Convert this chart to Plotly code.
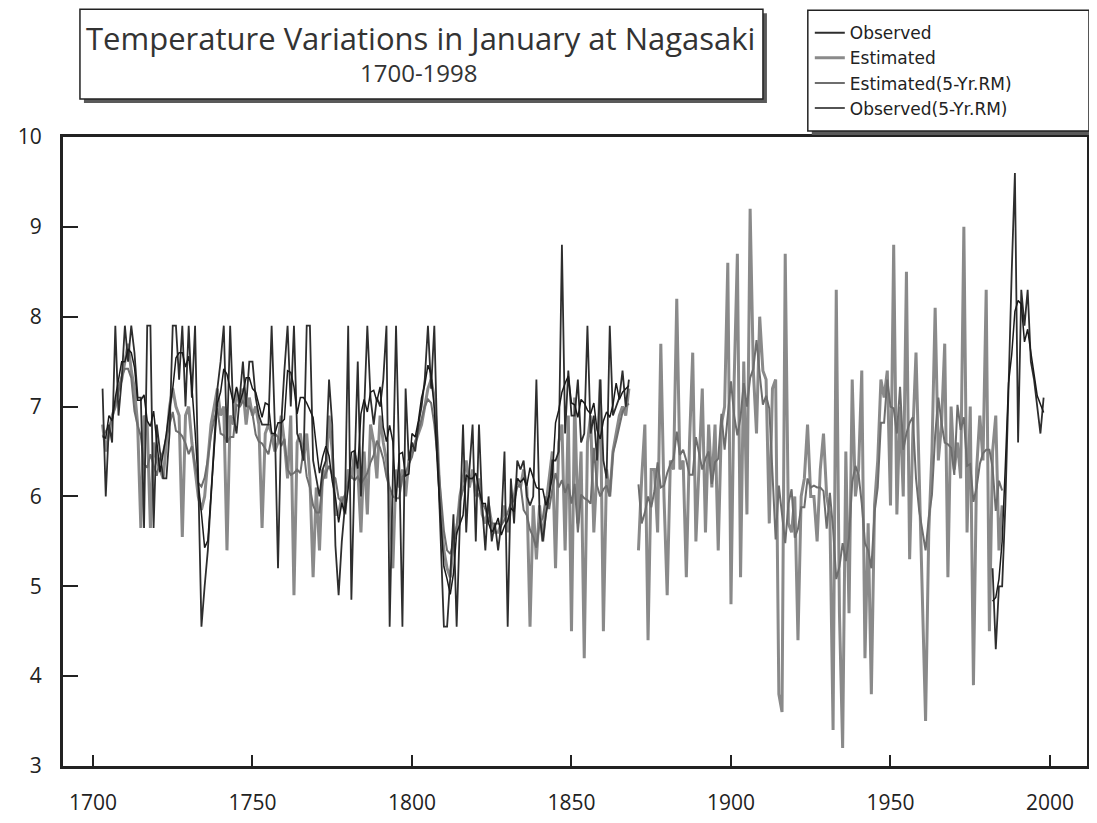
import plotly.graph_objects as go
import pandas as pd
import numpy as np

# ---------------- data ----------------
obs_early_years = list(range(1703, 1869))
obs_early = [
    7.2, 6.0, 6.8, 6.6, 7.9, 6.9, 7.3, 7.9, 7.5, 7.9,   # 1703-1712
    7.6, 7.1, 7.1, 5.65, 7.9, 7.9, 5.65, 6.8, 6.5, 6.2,  # 1713-1722
    6.2, 6.7, 7.9, 7.9, 7.3, 7.9, 7.0, 7.9, 7.1, 7.9,   # 1723-1732
    6.2, 4.55, 5.0, 5.4, 6.0, 6.6, 7.2, 7.5, 7.9, 6.6,  # 1733-1742
    7.9, 6.9, 6.7, 7.1, 7.5, 7.0, 7.5, 7.5, 7.1, 6.9,   # 1743-1752
    6.8, 6.8, 6.8, 7.9, 6.8, 5.2, 6.8, 7.4, 7.9, 7.0,   # 1753-1762
    7.9, 6.7, 6.6, 6.4, 7.9, 7.9, 6.4, 6.2, 6.0, 6.3,   # 1763-1772
    6.4, 7.3, 6.8, 5.45, 4.9, 5.5, 5.9, 7.9, 4.85, 6.3, # 1773-1782
    7.5, 6.0, 6.9, 7.9, 7.1, 6.8, 7.1, 7.0, 7.3, 7.9,   # 1783-1792
    4.55, 6.3, 7.9, 6.4, 4.55, 7.2, 6.4, 6.6, 6.5, 6.8, # 1793-1802
    7.0, 7.3, 7.9, 7.2, 7.9, 6.5, 5.4, 4.55, 4.55, 5.1, # 1803-1812
    5.8, 4.55, 5.7, 6.8, 5.6, 6.3, 6.8, 5.5, 6.8, 5.9,  # 1813-1822
    5.4, 6.0, 5.5, 5.7, 5.4, 5.7, 6.5, 4.55, 6.2, 5.7,  # 1823-1832
    6.4, 6.3, 6.4, 6.0, 5.9, 6.0, 7.3, 5.8, 5.5, 5.8,   # 1833-1842
    6.0, 6.4, 6.4, 6.5, 8.8, 6.7, 7.4, 6.9, 6.9, 7.3,   # 1843-1852
    6.6, 6.7, 7.9, 6.7, 6.9, 6.4, 7.3, 6.4, 6.2, 7.9,   # 1853-1862
    6.9, 7.0, 7.1, 7.4, 7.0, 7.3,                       # 1863-1868
]
obs_late_years = list(range(1982, 1999))
obs_late = [5.2, 4.3, 5.0, 5.0, 5.9, 7.3, 8.5, 9.6, 6.6, 8.3,
            7.9, 8.3, 7.5, 7.3, 7.0, 6.7, 7.1]

est_early_years = list(range(1703, 1869))
est_early = [
    6.8, 6.5, 6.7, 6.9, 7.0, 7.2, 7.3, 7.5, 7.7, 7.4,   # 1703-1712
    7.2, 6.8, 5.65, 6.9, 6.8, 5.65, 6.6, 6.4, 6.3, 6.2, # 1713-1722
    6.6, 7.0, 7.2, 7.0, 6.9, 5.55, 6.9, 7.0, 6.6, 6.3,  # 1723-1732
    6.0, 5.85, 6.0, 6.4, 6.8, 7.0, 7.2, 6.9, 7.0, 5.4,  # 1733-1742
    6.9, 6.8, 7.2, 7.0, 7.2, 6.8, 7.1, 6.9, 7.0, 6.8,   # 1743-1752
    5.65, 6.7, 6.8, 6.7, 6.5, 6.6, 6.9, 6.6, 6.2, 6.9,  # 1753-1762
    4.9, 6.6, 6.7, 6.4, 6.7, 6.2, 5.1, 6.1, 5.4, 6.3,   # 1763-1772
    6.2, 6.9, 6.5, 5.8, 5.8, 6.0, 5.8, 6.3, 6.2, 6.5,   # 1773-1782
    6.3, 5.6, 6.5, 5.8, 6.8, 6.6, 6.2, 6.9, 6.6, 6.4,   # 1783-1792
    6.0, 5.2, 6.3, 6.1, 6.3, 6.0, 6.4, 6.5, 6.6, 6.7,   # 1793-1802
    6.8, 7.0, 7.2, 7.3, 7.1, 6.6, 5.8, 5.4, 5.2, 5.1,   # 1803-1812
    5.5, 5.6, 6.0, 6.2, 6.4, 6.1, 6.3, 6.0, 6.2, 5.8,   # 1813-1822
    5.7, 5.9, 5.7, 5.6, 5.6, 5.7, 5.9, 5.6, 5.9, 6.0,   # 1823-1832
    6.2, 6.1, 6.3, 6.1, 4.55, 5.9, 5.3, 5.9, 5.5, 5.9,  # 1833-1842
    6.2, 6.5, 5.2, 6.6, 6.8, 5.4, 6.9, 4.5, 7.1, 5.7,   # 1843-1852
    6.5, 4.2, 6.6, 6.9, 5.6, 6.3, 7.3, 4.5, 6.3, 6.0,   # 1853-1862
    6.5, 6.7, 6.9, 7.0, 6.9, 7.2,                       # 1863-1868
]
est_late_years = list(range(1871, 1986))
est_late = [
    5.4, 6.2, 6.8, 4.4, 6.3, 6.3, 5.6, 7.7, 6.0, 4.9,   # 1871-1880
    6.4, 6.3, 8.2, 6.3, 6.4, 5.1, 6.6, 7.6, 5.5, 6.4,   # 1881-1890
    7.2, 5.6, 6.8, 6.1, 6.8, 5.4, 6.8, 7.0, 8.6, 4.8,   # 1891-1900
    7.3, 8.7, 5.1, 7.5, 5.8, 9.2, 7.4, 6.7, 8.0, 7.4,   # 1901-1910
    7.3, 5.7, 7.2, 7.3, 3.8, 3.6, 8.7, 5.7, 5.6, 6.0,   # 1911-1920
    4.4, 6.0, 6.2, 6.8, 6.0, 6.0, 5.5, 6.3, 6.7, 6.0,   # 1921-1930
    5.8, 3.4, 8.3, 4.7, 3.2, 6.5, 4.7, 7.3, 6.0, 6.3,   # 1931-1940
    7.4, 4.2, 5.7, 3.8, 5.9, 6.4, 7.3, 7.1, 7.4, 5.9,   # 1941-1950
    8.8, 5.8, 7.0, 6.0, 8.5, 5.3, 6.7, 7.6, 6.3, 5.1,   # 1951-1960
    3.5, 5.6, 6.5, 8.1, 6.4, 6.8, 7.7, 5.1, 7.0, 6.3,   # 1961-1970
    6.6, 6.2, 9.0, 5.6, 7.0, 3.9, 6.3, 6.9, 6.4, 8.3,   # 1971-1980
    4.5, 6.5, 6.9, 5.4, 5.9,                            # 1981-1985
]

x_ticks = [1700, 1750, 1800, 1850, 1900, 1950, 2000]
y_ticks = [3, 4, 5, 6, 7, 8, 9, 10]
series_names = ["Observed", "Estimated", "Estimated(5-Yr.RM)", "Observed(5-Yr.RM)"]
title_line1 = "Temperature Variations in January at Nagasaki"
title_line2 = "1700-1998"

# ---------------- assemble series (gaps kept as NaN) ----------------
years = np.arange(1703, 1999)
obs = pd.Series(np.nan, index=years)
obs.loc[obs_early_years] = obs_early
obs.loc[obs_late_years] = obs_late
est = pd.Series(np.nan, index=years)
est.loc[est_early_years] = est_early
est.loc[est_late_years] = est_late

obs_rm = obs.rolling(5, center=True, min_periods=3).mean().where(obs.notna())
est_rm = est.rolling(5, center=True, min_periods=3).mean().where(est.notna())

FONT = "Open Sans"
LEG_FONT = "DejaVu Sans"
fig = go.Figure()
fig.add_trace(go.Scatter(x=years, y=est.values, name=series_names[1], mode="lines",
                         line=dict(color="#8a8a8a", width=3), legendrank=2))
fig.add_trace(go.Scatter(x=years, y=est_rm.values, name=series_names[2], mode="lines",
                         line=dict(color="#6e6e6e", width=2), legendrank=3))
fig.add_trace(go.Scatter(x=years, y=obs.values, name=series_names[0], mode="lines",
                         line=dict(color="#2e2e2e", width=1.8), legendrank=1))
fig.add_trace(go.Scatter(x=years, y=obs_rm.values, name=series_names[3], mode="lines",
                         line=dict(color="#1a1a1a", width=1.5), legendrank=4))

# page is offset by the 8px body margin, so figure pixel coords = page coords - 8
OFF = 8
W, H = 1097 - OFF, 823 - OFF
L, R, T, B = 63 - OFF, 1090 - OFF, 137 - OFF, 767 - OFF
pw, ph = R - L, B - T
def px(xp):  # page x -> paper
    return (xp - OFF - L) / pw
def py(yp):  # page y -> paper
    return (B - (yp - OFF)) / ph

shapes = [
    # title box shadow + box
    dict(type="rect", xref="paper", yref="paper", x0=px(84), x1=px(769), y0=py(103), y1=py(13),
         fillcolor="#5a5a5a", line=dict(width=0), layer="above"),
    dict(type="rect", xref="paper", yref="paper", x0=px(80), x1=px(765), y0=py(99), y1=py(9),
         fillcolor="white", line=dict(color="#222222", width=1.5), layer="above"),
    # legend box shadow + box
    dict(type="rect", xref="paper", yref="paper", x0=px(814), x1=px(1097), y0=py(135), y1=py(14),
         fillcolor="#5a5a5a", line=dict(width=0), layer="above"),
    dict(type="rect", xref="paper", yref="paper", x0=px(810), x1=px(1092), y0=py(131), y1=py(10),
         fillcolor="white", line=dict(color="#222222", width=1.5), layer="above"),
]

fig.update_layout(
    width=W, height=H,
    margin=dict(l=L, r=W - R, t=T, b=H - B),
    paper_bgcolor="white", plot_bgcolor="white",
    font=dict(family=FONT, color="#222222", size=20),
    shapes=shapes,
    showlegend=True,
    legend=dict(x=px(812), y=py(15), xanchor="left", yanchor="top",
                bgcolor="rgba(0,0,0,0)", borderwidth=0,
                font=dict(family=LEG_FONT, size=17, color="#222222"),
                itemwidth=30, tracegroupgap=0),
    annotations=[
        dict(text=title_line1, xref="paper", yref="paper", x=px(422), y=py(38),
             showarrow=False, font=dict(family=FONT, size=31, color="#333333"),
             xanchor="center", yanchor="middle"),
        dict(text=title_line2, xref="paper", yref="paper", x=px(420), y=py(72),
             showarrow=False, font=dict(family=FONT, size=24, color="#333333"),
             xanchor="center", yanchor="middle"),
    ],
)
fig.update_xaxes(range=[1690.6, 2011.6], tickvals=x_ticks, ticktext=[str(v) for v in x_ticks],
                 ticks="inside", ticklen=11, tickwidth=1.5, tickcolor="#222222",
                 showline=True, linewidth=2.5, linecolor="#222222", mirror=True,
                 showgrid=False, zeroline=False, ticklabelstandoff=16,
                 tickfont=dict(size=21))
fig.update_yaxes(range=[3, 10], tickvals=y_ticks, ticktext=[str(v) for v in y_ticks],
                 ticks="inside", ticklen=15, tickwidth=2, tickcolor="#222222",
                 showline=True, linewidth=3, linecolor="#222222", mirror=True,
                 showgrid=False, zeroline=False, ticklabelstandoff=14,
                 tickfont=dict(size=21))

fig.write_html("out.html")
